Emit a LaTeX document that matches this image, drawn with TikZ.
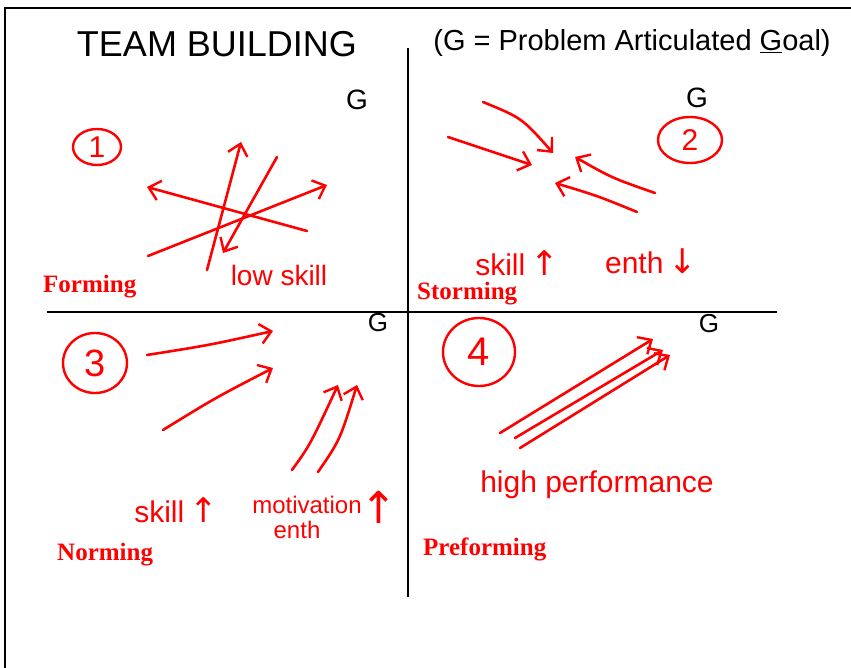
\documentclass[tikz,border=0pt]{standalone}
\usepackage{fontspec}
\setmainfont{Liberation Serif}
\newfontfamily\handfont{Liberation Sans}
\newfontfamily\arrowfont{DejaVu Sans}
\usetikzlibrary{arrows.meta,shapes.geometric,positioning}
\newcommand{\bigup}[1]{{\arrowfont\fontsize{#1}{#1}\selectfont ↑}}
\newcommand{\bigdown}[1]{{\arrowfont\fontsize{#1}{#1}\selectfont ↓}}

\begin{document}
\begin{tikzpicture}[x=1pt,y=-1pt,
	blackline/.style={black,line width=1.6pt},
	redarrow/.style={red,line width=2.6pt,line cap=round,line join=round,-{Straight Barb[length=11pt,width=20pt,line width=2.4pt]}},
	stage/.style={red,font=\fontsize{25}{25}\selectfont\bfseries,inner sep=0pt},
	hand/.style={font=\handfont\fontsize{#1}{#1}\selectfont,inner sep=0pt},
	redhand/.style={hand=#1,red},
	circled/.style={draw=red,red,ellipse,line width=2.4pt,inner sep=0pt}]
	\useasboundingbox (0,0) rectangle (851,668);

	% frame and quadrant axes
	\coordinate (fl) at (5,668);
	\coordinate (ftl) at (5,8);
	\coordinate (fr) at (851,8);
	\coordinate (vt) at (408,48);
	\coordinate (vb) at (408,597);
	\coordinate (hl) at (47,312);
	\coordinate (hr) at (777,312);
	\draw[blackline] (fl) -- (ftl) -- (fr);
	\draw[blackline] (vt) -- (vb);
	\draw[blackline] (hl) -- (hr);

	% headings
	\node[hand=36] (title) at (217,44) {TEAM BUILDING};
	\node[hand=29] (legend) at (632,43) {(G = Problem Articulated \underline{G}oal)};
	\node[hand=28] (g1) at (357,100) {G};
	\node[hand=28] (g2) at (697,98) {G};
	\node[hand=26] (g3) at (378,323) {G};
	\node[hand=26] (g4) at (709,324) {G};

	% stage numbers
	\node[circled,hand=30,minimum width=48,minimum height=36] (n1) at (97,147) {1};
	\node[circled,hand=30,minimum width=64,minimum height=46] (n2) at (690,140) {2};
	\node[circled,hand=38,minimum width=64,minimum height=60] (n3) at (95,363) {3};
	\node[circled,hand=40,minimum width=72,minimum height=68] (n4) at (479,352) {4};

	% stage names
	\node[stage,anchor=base west] (forming) at (43,293) {Forming};
	\node[stage,anchor=base west] (storming) at (417,299) {Storming};
	\node[stage,anchor=base west] (norming) at (57,560) {Norming};
	\node[stage,anchor=base west] (preforming) at (423,555) {Preforming};

	% notes
	\node[redhand=28] (lowskill) at (279,275) {low skill};
	\node[redhand=30,anchor=base] (skillup) at (517,276) {skill\,\bigup{34}};
	\node[redhand=30,anchor=base] (enthdown) at (651,274) {enth\,\bigdown{34}};
	\node[redhand=30,anchor=base] (skillup3) at (176,522) {skill\,\bigup{34}};
	\node[redhand=24] (motivation) at (307,505) {motivation};
	\node[redhand=24] (enth3) at (297,530) {enth};
	\node[redhand=30] (motup) at (379,507) {\bigup{44}};
	\node[redhand=30] (highperf) at (597,485) {high performance};

	% forming: everyone pulls a different way
	\coordinate (a1s) at (207,270); \coordinate (a1e) at (241,142);
	\coordinate (a2s) at (277,157); \coordinate (a2e) at (223,253);
	\coordinate (a3s) at (307,231); \coordinate (a3e) at (147,187);
	\coordinate (a4s) at (148,256); \coordinate (a4e) at (327,185);
	\draw[redarrow] (a1s) -- (a1e);
	\draw[redarrow] (a2s) -- (a2e);
	\draw[redarrow] (a3s) -- (a3e);
	\draw[redarrow] (a4s) -- (a4e);

	% storming: arrows clash in the middle
	\coordinate (b1s) at (483,102); \coordinate (b1e) at (553,153);
	\coordinate (b2s) at (448,137); \coordinate (b2e) at (532,165);
	\coordinate (b3s) at (655,193); \coordinate (b3e) at (575,157);
	\coordinate (b4s) at (637,212); \coordinate (b4e) at (555,183);
	\draw[redarrow] (b1s) .. controls (522,118) .. (b1e);
	\draw[redarrow] (b2s) -- (b2e);
	\draw[redarrow] (b3s) .. controls (612,178) .. (b3e);
	\draw[redarrow] (b4s) .. controls (598,196) .. (b4e);

	% norming: roughly one direction
	\coordinate (c1s) at (147,355); \coordinate (c1e) at (273,331);
	\coordinate (c2s) at (163,430); \coordinate (c2e) at (273,368);
	\coordinate (c3s) at (292,470); \coordinate (c3e) at (338,385);
	\coordinate (c4s) at (318,472); \coordinate (c4e) at (357,385);
	\draw[redarrow] (c1s) .. controls (210,345) .. (c1e);
	\draw[redarrow] (c2s) .. controls (215,398) .. (c2e);
	\draw[redarrow] (c3s) .. controls (310,445) .. (c3e);
	\draw[redarrow] (c4s) .. controls (340,440) .. (c4e);

	% performing: all towards the goal
	\coordinate (d1s) at (500,433); \coordinate (d1e) at (653,339);
	\coordinate (d2s) at (515,438); \coordinate (d2e) at (663,350);
	\coordinate (d3s) at (520,448); \coordinate (d3e) at (670,355);
	\draw[redarrow] (d1s) -- (d1e);
	\draw[redarrow] (d2s) -- (d2e);
	\draw[redarrow] (d3s) -- (d3e);
\end{tikzpicture}
\end{document}
